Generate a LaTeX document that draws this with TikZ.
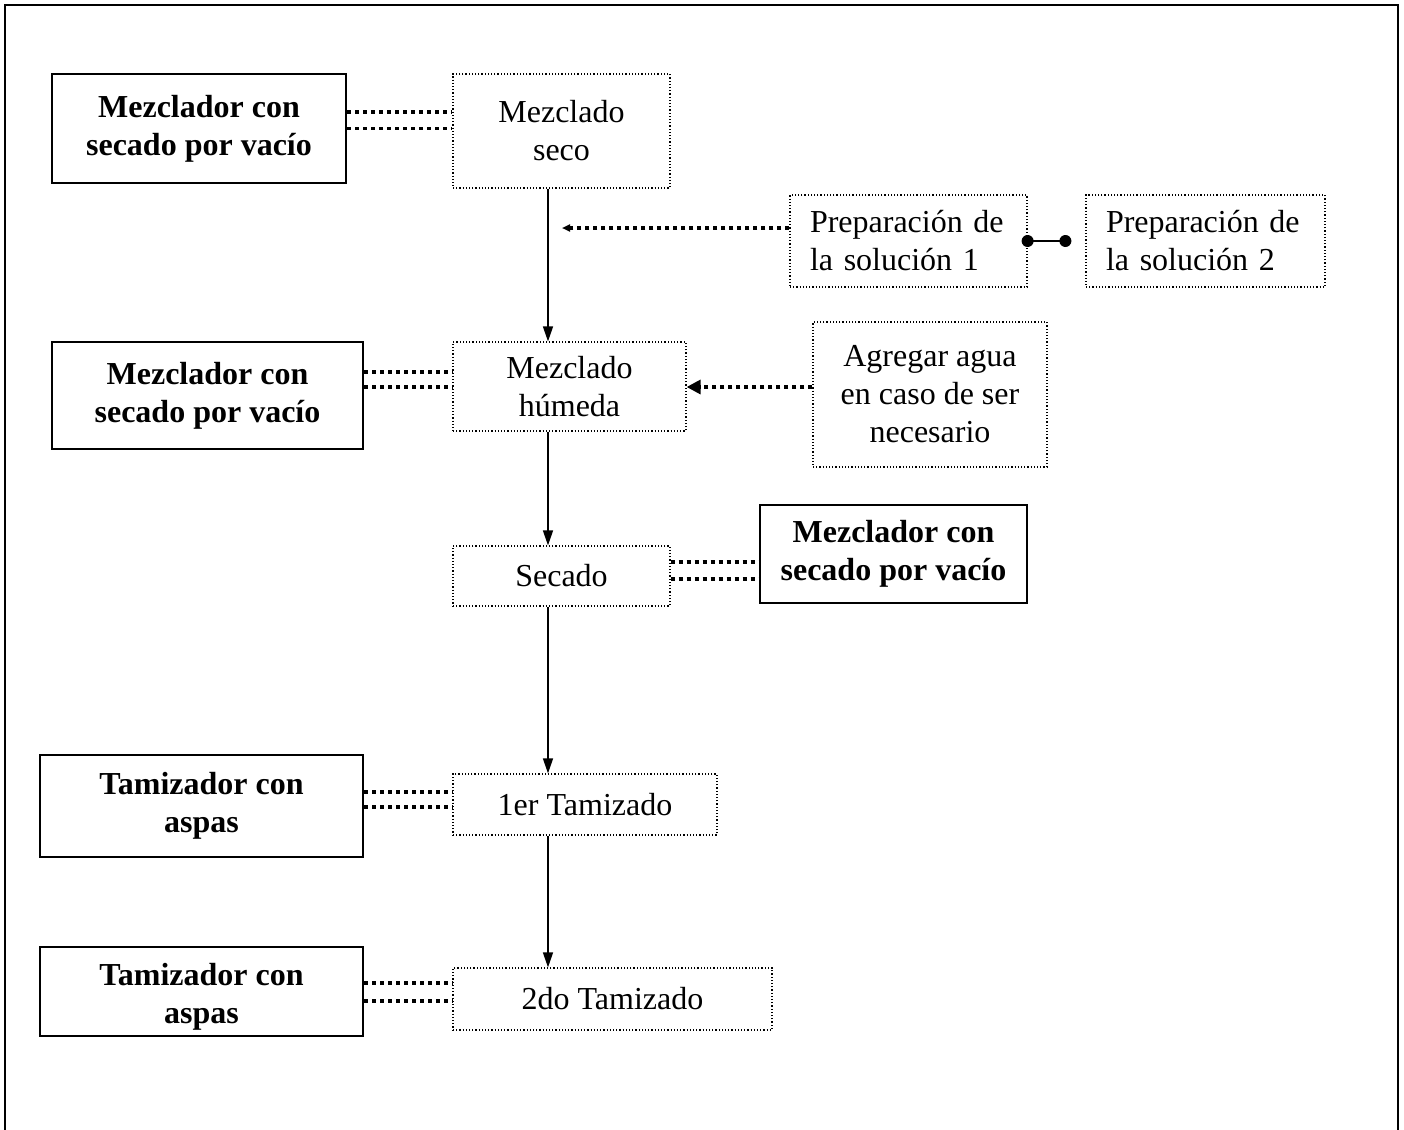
\documentclass[tikz,border=0pt]{standalone}
\usepackage{fontspec}
\setmainfont{Liberation Serif}
\usetikzlibrary{arrows.meta}
\tikzset{
  equipo/.style={draw, line width=1pt, font=\fontsize{16}{19}\selectfont\bfseries, align=center, inner sep=0pt},
  paso/.style={draw, densely dotted, line width=0.6pt, align=center, inner sep=0pt},
  enlace/.style={line width=1.6pt, dash pattern=on 2pt off 2pt},
  flujo/.style={line width=0.75pt, -{Triangle[length=7.5pt,width=5pt]}},
}
\begin{document}
\begin{tikzpicture}[x=0.5pt,y=-0.5pt,font=\fontsize{16}{19}\selectfont]
    \useasboundingbox (0,0) rectangle (1404,1130);
    \draw[line width=1pt] (5,1130) -- (5,5) -- (1398,5) -- (1398,1130);
    \coordinate (spine) at (548,0);
    \coordinate (tipA) at (562,228);
    \node[equipo, minimum width=147pt, minimum height=54.5pt] (A1) at (199,128.5) {Mezclador con\\secado por vacío};
    \node[paso, minimum width=108.5pt, minimum height=57pt] (P1) at (561.5,131) {Mezclado\\seco};
    \node[paso, minimum width=118.5pt, minimum height=46pt, text width=98.5pt, inner xsep=10pt, align=left] (S1) at (908.5,241) {Preparación de\\la solución 1};
    \node[paso, minimum width=119.5pt, minimum height=46pt, text width=99.5pt, inner xsep=10pt, align=left] (S2) at (1205.5,241) {Preparación de\\la solución 2};
    \node[equipo, minimum width=155.5pt, minimum height=53.5pt] (A2) at (207.5,395.5) {Mezclador con\\secado por vacío};
    \node[paso, minimum width=116.5pt, minimum height=44.5pt] (P2) at (569.5,386.5) {Mezclado\\húmeda};
    \node[paso, minimum width=117pt, minimum height=72.5pt] (W) at (930,394.5) {Agregar agua\\en caso de ser\\necesario};
    \node[paso, minimum width=108.5pt, minimum height=30pt] (P3) at (561.5,576) {Secado};
    \node[equipo, minimum width=133.5pt, minimum height=49pt] (A3) at (893.5,554) {Mezclador con\\secado por vacío};
    \node[equipo, minimum width=161.5pt, minimum height=51pt] (A4) at (201.5,806) {Tamizador con\\aspas};
    \node[paso, minimum width=132pt, minimum height=30.5pt] (P4) at (585,804.5) {1er Tamizado};
    \node[equipo, minimum width=161.5pt, minimum height=44.5pt] (A5) at (201.5,991.5) {\raisebox{-7pt}[0pt][0pt]{\begin{tabular}{@{}c@{}}Tamizador con\\aspas\end{tabular}}};
    \node[paso, minimum width=159.5pt, minimum height=31pt] (P5) at (612.5,999) {2do Tamizado};
    % flujo principal
    \draw[flujo] (P1.south -| spine) -- (P2.north -| spine);
    \draw[flujo] (P2.south -| spine) -- (P3.north -| spine);
    \draw[flujo] (P3.south -| spine) -- (P4.north -| spine);
    \draw[flujo] (P4.south -| spine) -- (P5.north -| spine);
    % entradas
    \draw[enlace, -{Triangle[length=4pt,width=3.5pt]}] ([yshift=6.5pt]S1.west) -- (tipA);
    \draw[enlace, -{Triangle[length=7pt,width=7pt]}] ([yshift=3.75pt]W.west) -- ([yshift=3.75pt]W.west -| P2.east);
    \coordinate (D1) at (S1.east);
    \coordinate (D2) at ([xshift=-10pt]S2.west);
    \draw[line width=1pt] (D1) -- (D2);
    \fill (D1) circle[radius=3pt];
    \fill (D2) circle[radius=3pt];
    % equipos
    \draw[enlace] ([yshift=8.25pt]A1.east) -- ([yshift=8.25pt]A1.east -| P1.west);
    \draw[enlace] (A1.east) -- (A1.east -| P1.west);
    \draw[enlace] ([yshift=11.75pt]A2.east) -- ([yshift=11.75pt]A2.east -| P2.west);
    \draw[enlace] ([yshift=4.25pt]A2.east) -- ([yshift=4.25pt]A2.east -| P2.west);
    \draw[enlace] ([yshift=7pt]P3.east) -- ([yshift=7pt]P3.east -| A3.west);
    \draw[enlace] ([yshift=-1.5pt]P3.east) -- ([yshift=-1.5pt]P3.east -| A3.west);
    \draw[enlace] ([yshift=7pt]A4.east) -- ([yshift=7pt]A4.east -| P4.west);
    \draw[enlace] ([yshift=-0.5pt]A4.east) -- ([yshift=-0.5pt]A4.east -| P4.west);
    \draw[enlace] ([yshift=4.25pt]A5.east) -- ([yshift=4.25pt]A5.east -| P5.west);
    \draw[enlace] ([yshift=-4.75pt]A5.east) -- ([yshift=-4.75pt]A5.east -| P5.west);
  \end{tikzpicture}
\end{document}
